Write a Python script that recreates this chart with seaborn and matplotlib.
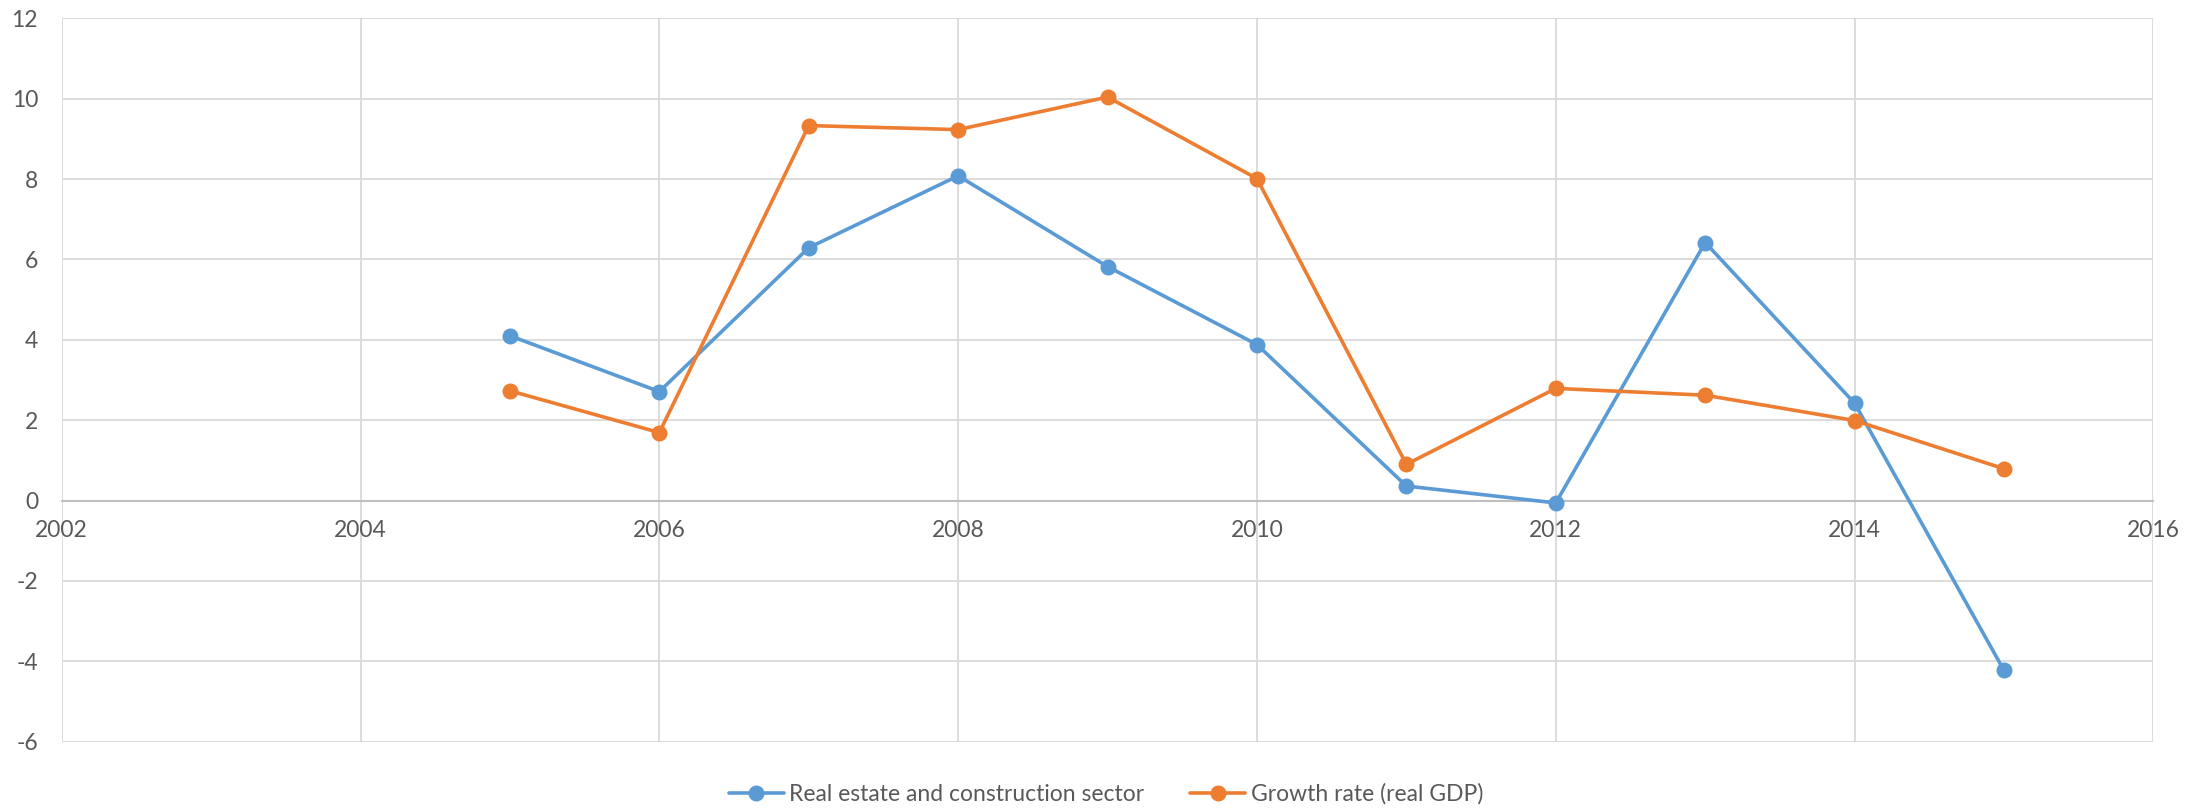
import matplotlib
matplotlib.use("Agg")
import matplotlib.pyplot as plt
import seaborn as sns
import pandas as pd

years = [2005, 2006, 2007, 2008, 2009, 2010, 2011, 2012, 2013, 2014, 2015]
real_estate = [4.10, 2.71, 6.29, 8.08, 5.82, 3.88, 0.36, -0.06, 6.42, 2.42, -4.23]
gdp_growth = [2.73, 1.69, 9.33, 9.23, 10.04, 8.01, 0.90, 2.79, 2.62, 1.99, 0.79]
series_names = ["Real estate and construction sector", "Growth rate (real GDP)"]
series_colors = ["#5B9BD5", "#ED7D31"]
x_ticks = [2002, 2004, 2006, 2008, 2010, 2012, 2014, 2016]
y_ticks = [-6, -4, -2, 0, 2, 4, 6, 8, 10, 12]

df = pd.concat([
    pd.DataFrame({"year": years, "value": real_estate, "series": series_names[0]}),
    pd.DataFrame({"year": years, "value": gdp_growth, "series": series_names[1]}),
])

sns.set_style("white")
plt.rcParams["font.family"] = ["Lato", "DejaVu Sans"]
plt.rcParams["axes.unicode_minus"] = False
text_color = "#595959"
grid_color = "#D9D9D9"
fs = 16.5

fig = plt.figure(figsize=(22.03, 8.09), dpi=100)
ax = fig.add_axes([0.028, 0.0833, 0.9495, 0.8941])

sns.lineplot(data=df, x="year", y="value", hue="series", hue_order=series_names,
             palette=dict(zip(series_names, series_colors)), marker="o",
             markersize=11.5, markeredgewidth=0, linewidth=2.6, ax=ax, zorder=3)

ax.set_xlim(2002, 2016)
ax.set_ylim(-6, 12)
ax.set_xticks(x_ticks)
ax.set_yticks(y_ticks)
ax.grid(True, color=grid_color, linewidth=1.3)
ax.set_axisbelow(True)
for side in ["top", "right", "left"]:
    ax.spines[side].set_visible(False)
ax.spines["bottom"].set_position(("data", 0))
ax.spines["bottom"].set_color("#BFBFBF")
ax.spines["bottom"].set_linewidth(1.5)
ax.tick_params(axis="x", length=0, pad=14, labelsize=fs, labelcolor=text_color)
ax.tick_params(axis="y", length=0, pad=17, labelsize=fs, labelcolor=text_color)
ax.set_xlabel("")
ax.set_ylabel("")

handles, labels = ax.get_legend_handles_labels()
ax.get_legend().remove()
fig.legend(handles, labels, loc="center", bbox_to_anchor=(0.502, 0.0185), ncol=2,
           frameon=False, fontsize=fs, labelcolor=text_color, handlelength=2.4,
           handletextpad=0.25, columnspacing=2.0, borderpad=0)

fig.savefig("out.png", dpi=100, facecolor="white")
